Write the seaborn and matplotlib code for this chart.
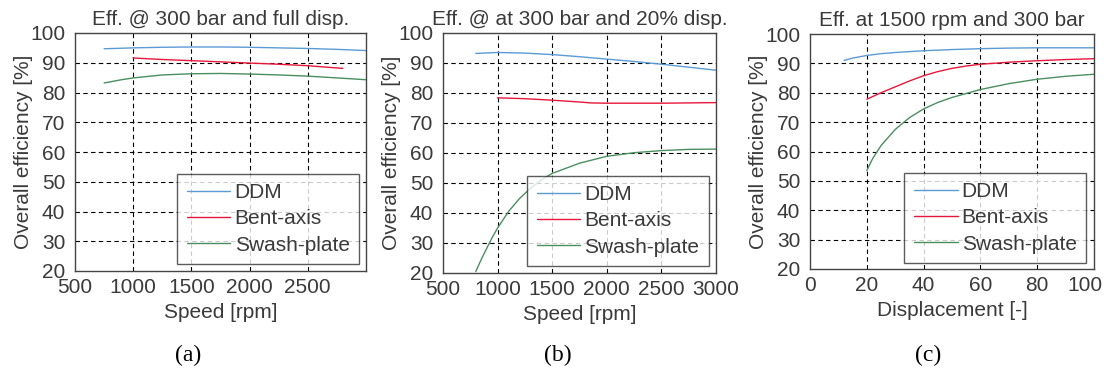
import matplotlib
matplotlib.use("Agg")
import matplotlib.pyplot as plt
import matplotlib.transforms as mtransforms
import seaborn as sns
import pandas as pd

sns.set_theme(style="white")
plt.rcParams['font.family'] = ['Liberation Sans', 'DejaVu Sans']

# ---- Data ----
series_names = ["DDM", "Bent-axis", "Swash-plate"]
colors = ["#5b9bd5", "#e8173a", "#4a8f5f"]

# Panel (a): 300 bar, full displacement
a_ddm_x = [750, 1000, 1250, 1500, 1750, 2000, 2250, 2500, 2750, 3000]
a_ddm_y = [94.7, 95.0, 95.2, 95.3, 95.3, 95.2, 95.0, 94.8, 94.5, 94.1]
a_bent_x = [1000, 1250, 1500, 1750, 2000, 2250, 2500, 2800]
a_bent_y = [91.6, 91.1, 90.7, 90.3, 89.9, 89.5, 89.0, 88.1]
a_swash_x = [750, 900, 1000, 1250, 1500, 1750, 2000, 2250, 2500, 2750, 3000]
a_swash_y = [83.2, 84.3, 84.9, 85.9, 86.3, 86.4, 86.2, 85.9, 85.5, 84.9, 84.3]

# Panel (b): 300 bar, 20% displacement
b_ddm_x = [800, 1000, 1250, 1500, 1750, 2000, 2250, 2500, 2750, 3000]
b_ddm_y = [93.2, 93.5, 93.3, 92.8, 92.1, 91.3, 90.5, 89.6, 88.6, 87.6]
b_bent_x = [1000, 1250, 1500, 1750, 1850, 2000, 2500, 3000]
b_bent_y = [78.4, 78.1, 77.6, 77.0, 76.7, 76.6, 76.6, 76.8]
b_swash_x = [800, 850, 900, 950, 1000, 1100, 1200, 1300, 1400, 1500, 1750, 2000, 2250, 2500, 2750, 3000]
b_swash_y = [20.5, 24.5, 28.2, 31.8, 35.0, 40.5, 44.8, 48.2, 51.0, 53.2, 56.6, 58.9, 60.1, 60.8, 61.2, 61.3]

# Panel (c): 1500 rpm, 300 bar
c_ddm_x = [12, 15, 20, 25, 30, 40, 50, 60, 70, 80, 90, 100]
c_ddm_y = [91.0, 91.8, 92.7, 93.3, 93.7, 94.3, 94.7, 95.0, 95.2, 95.3, 95.3, 95.3]
c_bent_x = [20, 25, 30, 35, 40, 45, 50, 55, 60, 70, 80, 90, 100]
c_bent_y = [77.8, 80.0, 82.0, 84.0, 85.8, 87.2, 88.3, 89.1, 89.7, 90.4, 90.9, 91.3, 91.6]
c_swash_x = [20, 22, 25, 30, 35, 40, 45, 50, 60, 70, 80, 90, 100]
c_swash_y = [53.5, 57.5, 62.0, 67.5, 71.5, 74.5, 76.7, 78.4, 81.1, 83.1, 84.6, 85.6, 86.3]

titles = ["Eff. @ 300 bar and full disp.", "Eff. @ at 300 bar and 20% disp.",
          "Eff. at 1500 rpm and 300 bar"]
xlabels = ["Speed [rpm]", "Speed [rpm]", "Displacement [-]"]
ylabel = "Overall efficiency [%]"
captions = ["(a)", "(b)", "(c)"]
a_xticks = [500, 1000, 1500, 2000, 2500]
b_xticks = [500, 1000, 1500, 2000, 2500, 3000]
c_xticks = [0, 20, 40, 60, 80, 100]
yticks = [20, 30, 40, 50, 60, 70, 80, 90, 100]


def make_df(xs, ys):
    frames = []
    for name, x, y in zip(series_names, xs, ys):
        frames.append(pd.DataFrame({"x": x, "y": y, "series": name}))
    return pd.concat(frames, ignore_index=True)


panels = [
    (make_df([a_ddm_x, a_bent_x, a_swash_x], [a_ddm_y, a_bent_y, a_swash_y]), (500, 3000), a_xticks),
    (make_df([b_ddm_x, b_bent_x, b_swash_x], [b_ddm_y, b_bent_y, b_swash_y]), (500, 3000), b_xticks),
    (make_df([c_ddm_x, c_bent_x, c_swash_x], [c_ddm_y, c_bent_y, c_swash_y]), (0, 100), c_xticks),
]

W, H = 1108, 371
fig = plt.figure(figsize=(W / 100, H / 100), dpi=100)
fig.patch.set_facecolor("white")

boxes = [(75, 366, 33, 271), (443, 716, 33, 273), (810, 1094, 34, 269)]
caption_x = [188, 558, 928]
legend_anchor = [(0.976, 0.029), (0.974, 0.029), (0.972, 0.026)]
text_color = "#3a3a3a"
FS = 15

for i, ((df, xlim, xt), (l, r, t, b)) in enumerate(zip(panels, boxes)):
    ax = fig.add_axes([l / W, 1 - b / H, (r - l) / W, (b - t) / H])
    sns.lineplot(data=df, x="x", y="y", hue="series", palette=colors,
                 hue_order=series_names, ax=ax, linewidth=1.0, sort=False,
                 estimator=None)
    ax.set_xlim(*xlim)
    ax.set_ylim(20, 100)
    ax.set_xticks(xt)
    ax.set_yticks(yticks)
    ax.tick_params(axis="x", length=0, labelsize=FS, colors=text_color, pad=5)
    ax.tick_params(axis="y", length=0, labelsize=FS, colors=text_color, pad=7)
    # dashed grid on inner lines only
    for yv in yticks[1:-1]:
        ax.axhline(yv, color="black", linestyle=(0, (4, 3)), linewidth=0.8, zorder=0)
    for xv in xt:
        if xlim[0] < xv < xlim[1]:
            ax.axvline(xv, color="black", linestyle=(0, (4, 3)), linewidth=0.8, zorder=0)
    for s in ax.spines.values():
        s.set_color("#444444")
        s.set_linewidth(1.0)
    ax.set_title(titles[i], fontsize=FS, color=text_color, pad=6)
    ax.set_xlabel(xlabels[i], fontsize=FS, color=text_color, labelpad=4)
    ax.set_ylabel(ylabel, fontsize=FS, color=text_color, labelpad=-2)
    if i == 2:
        lab = ax.get_xticklabels()[-1]
        lab.set_transform(lab.get_transform() +
                          mtransforms.ScaledTranslation(-9 / 100, 0, fig.dpi_scale_trans))
    leg = ax.legend(loc="lower right", bbox_to_anchor=legend_anchor[i], fontsize=FS,
                    frameon=True, fancybox=False, handlelength=2.1, handletextpad=0.2,
                    labelspacing=0.35, borderpad=0.45, borderaxespad=0.0, title=None)
    leg.get_frame().set_edgecolor("#333333")
    leg.get_frame().set_linewidth(1.0)
    for txt in leg.get_texts():
        txt.set_color(text_color)
    fig.text(caption_x[i] / W, 1 - 355 / H, captions[i], ha="center", va="center",
             fontsize=17, family="Liberation Serif", color="black")

fig.savefig("out.png", dpi=100)
